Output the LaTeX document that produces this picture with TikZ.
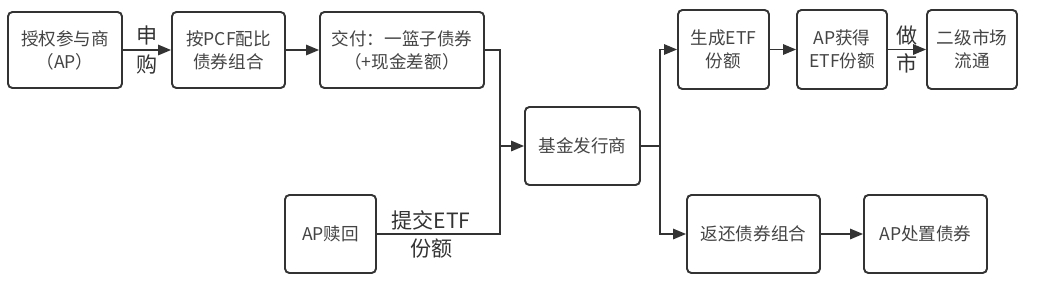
\documentclass[tikz,border=0pt]{standalone}
\usepackage{fontspec}
\setmainfont{Noto Sans CJK SC}
\usetikzlibrary{arrows.meta}
\definecolor{ink}{HTML}{333333}
\definecolor{txt}{HTML}{444444}
\begin{document}
\begin{tikzpicture}[x=0.02cm, y=-0.02cm,
      box/.style={draw=ink, line width=1.1pt, rounded corners=2.5pt, align=center,
        text=txt, font=\fontsize{10}{13}\selectfont, inner sep=0pt},
      arrow/.style={-{Triangle[length=2.6mm, width=2.1mm]}, draw=ink, line width=0.85pt},
      line/.style={draw=ink, line width=0.85pt},
      lbl/.style={align=center, text=ink, font=\fontsize{12}{16}\selectfont, inner sep=0pt}
    ]
      \useasboundingbox (0,0) rectangle (1050,285);

      \node[box, minimum width=2.28cm, minimum height=1.52cm] (ap) at (65,50) {授权参与商\\（AP）};
      \node[box, minimum width=2.26cm, minimum height=1.52cm] (pcf) at (228.5,50) {按PCF配比\\债券组合};
      \node[box, minimum width=3.28cm, minimum height=1.52cm] (deliver) at (402,50) {交付：一篮子债券\\（+现金差额）};
      \node[box, minimum width=2.30cm, minimum height=1.56cm] (issuer) at (582.5,146) {基金发行商};
      \node[box, minimum width=1.82cm, minimum height=1.56cm] (redeem) at (330.5,234) {AP赎回};

      \node[box, minimum width=1.82cm, minimum height=1.58cm] (create) at (723.5,49.5) {生成ETF\\份额};
      \node[box, minimum width=1.80cm, minimum height=1.58cm] (apget) at (842,49.5) {AP获得\\ETF份额};
      \node[box, minimum width=1.80cm, minimum height=1.58cm] (market) at (972,49.5) {二级市场\\流通};
      \node[box, minimum width=2.66cm, minimum height=1.56cm] (ret) at (753.5,234) {返还债券组合};
      \node[box, minimum width=2.46cm, minimum height=1.56cm] (dispose) at (925.5,234) {AP处置债券};

      \coordinate (jin) at (500,146);
      \coordinate (jout) at (660,146);

      \draw[arrow] (ap) -- (pcf) node[midway, lbl] {申\\购};
      \draw[arrow] (pcf) -- (deliver);
      \draw[line] (deliver.east) -| (jin);
      \draw[line] (redeem.east) -| (jin) node[pos=0.22, lbl] {提交ETF\\份额};
      \draw[arrow] (jin) -- (issuer.west);

      \draw[line] (issuer.east) -- (jout);
      \draw[arrow] (jout) |- (create.west);
      \draw[arrow] (jout) |- (ret.west);
      \draw[arrow] (create) -- (apget);
      \draw[arrow] (apget) -- (market) node[midway, lbl] {做\\市};
      \draw[arrow] (ret) -- (dispose);
    \end{tikzpicture}
\end{document}
